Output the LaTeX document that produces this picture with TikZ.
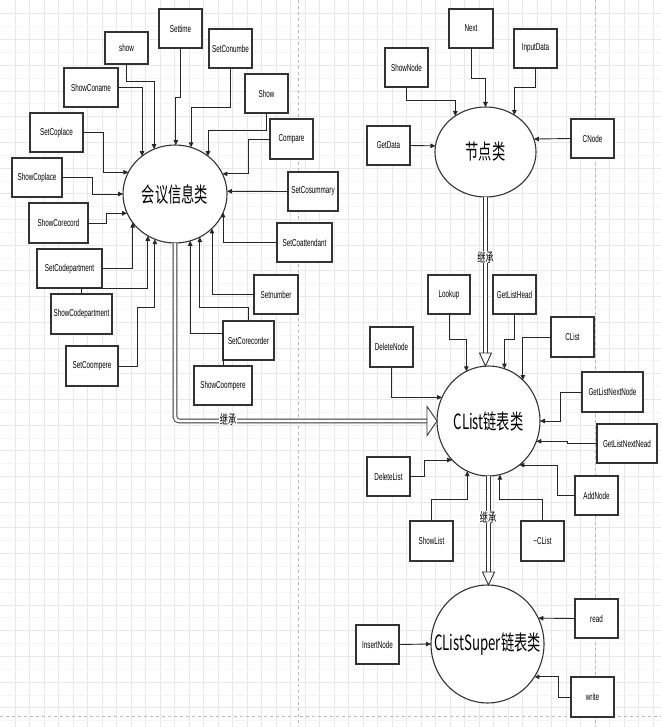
\documentclass[tikz,border=0pt]{standalone}
\usepackage{fontspec}
\setmainfont{Liberation Sans}
\newfontfamily\cjk{Noto Sans CJK SC}
\usepackage{graphicx}
\usetikzlibrary{arrows.meta, shapes.geometric}
\newcommand{\cnd}[1]{\scalebox{0.63}[1]{#1}}
\newcommand{\clsname}[1]{\makebox[0pt]{\scalebox{0.63}[1]{\cjk\fontsize{21}{24}\selectfont #1}}}
\tikzset{
  fnbox/.style={rectangle, draw=black!80, line width=1.1pt, fill=white, minimum width=43pt, minimum height=39pt, inner sep=0pt, outer sep=0pt, font=\fontsize{10}{12}\selectfont},
  clsnode/.style={ellipse, draw=black!80, line width=1.1pt, fill=white, inner sep=0pt, outer sep=0pt},
  fnarr/.style={draw=black!85, line width=0.9pt, -{Triangle[length=5pt,width=4.5pt]}},
  inhline/.style={draw=black!80, line width=0.9pt, double=white, double distance=2.8pt},
  inhhead/.style={draw=black!80, line width=0.9pt, fill=white, line join=miter},
  inhlbl/.style={fill=white, inner sep=0.5pt, font=\cjk\fontsize{13}{14}\selectfont},
  gridmaj/.style={draw=gray!18, line width=0.5pt},
  gridmin/.style={draw=gray!8, line width=0.4pt},
  pgline/.style={draw=gray!55, line width=0.6pt, dash pattern=on 3pt off 3pt},
}

\begin{document}
\begin{tikzpicture}[x=1pt, y=-1pt]
\useasboundingbox (0,0) rectangle (661,727);
\foreach \gx in {0,...,44} \draw[gridmaj] ({15+14.5*\gx},0) -- ({15+14.5*\gx},727);
\foreach \gy in {0,...,27} \draw[gridmaj] (0,{13.7+25.7*\gy}) -- (661,{13.7+25.7*\gy});
\foreach \gy in {0,...,27} \draw[gridmin] (0,{26.55+25.7*\gy}) -- (661,{26.55+25.7*\gy});
\draw[pgline] (298,0) -- (298,727); \draw[pgline] (595,0) -- (595,727);
\draw[pgline] (0,716) -- (661,716);

\node[clsnode, minimum width=104pt, minimum height=98pt] (hy) at (175,194) {\clsname{会议信息类}};
\node[fnbox] (st) at (180.5,28.5) {\cnd{Settime}};
\node[fnbox, minimum height=32pt] (sw) at (126.5,48) {\cnd{show}};
\node[fnbox] (scn) at (230.5,48.5) {\cnd{SetConumbe}};
\node[fnbox, minimum width=54pt] (scm) at (91,87.5) {\cnd{ShowConame}};
\node[fnbox] (sh) at (266.5,93.5) {\cnd{Show}};
\node[fnbox, minimum width=53pt] (scp) at (56.5,132.5) {\cnd{SetCoplace}};
\node[fnbox, minimum height=40pt] (cmp) at (291.5,139) {\cnd{Compare}};
\node[fnbox, minimum width=50pt] (shp) at (37,177.5) {\cnd{ShowCoplace}};
\node[fnbox, minimum width=50pt] (scs) at (313,191.5) {\cnd{SetCosummary}};
\node[fnbox, minimum width=59pt, minimum height=40pt] (shr) at (58.5,223) {\cnd{ShowCorecord}};
\node[fnbox, minimum width=55pt] (sca) at (304.5,242.5) {\cnd{SetCoattendant}};
\node[fnbox, minimum width=65pt] (scd) at (69.5,268.5) {\cnd{SetCodepartment}};
\node[fnbox, minimum width=61pt, minimum height=40pt] (shd) at (81.5,314) {\cnd{ShowCodepartment}};
\node[fnbox, minimum width=44pt] (snb) at (276,294.5) {\cnd{Setnumber}};
\node[fnbox, minimum width=51pt] (scr) at (248.5,340.5) {\cnd{SetCorecorder}};
\node[fnbox, minimum width=52pt, minimum height=40pt] (sce) at (92,366) {\cnd{SetCoompere}};
\node[fnbox, minimum width=58pt] (she) at (223,385.5) {\cnd{ShowCoompere}};
\draw[fnarr] (sw.south) -- ++(0,17) -| (hy.115);
\draw[fnarr] (scm.east) -| (hy.131);
\draw[fnarr] (st.south) -- ++(0,49) -| (hy.89);
\draw[fnarr] (scn.south) -- ++(0,39) -| (hy.71);
\draw[fnarr] (sh.south) -- ++(0,17) -| (hy.49);
\draw[fnarr] (cmp.west) -- ++(-22,0) |- (hy.23);
\draw[fnarr] (scp.east) -- ++(20,0) |- (hy.155);
\draw[fnarr] (shp.east) -- ++(30,0) |- (hy.west);
\draw[fnarr] (shr.east) -- ++(18,0) |- (hy.202);
\draw[fnarr] (scd.east) -| (hy.214);
\draw[fnarr] (shd.north) -- ++(0,-6) -| (hy.237);
\draw[fnarr] (sce.east) -- ++(19,0) -- ++(0,-59) -| (hy.246);
\draw[fnarr] (scs.west) -- (hy.3);
\draw[fnarr] (sca.west) -| (hy.-21);
\draw[fnarr] (snb.west) -| (hy.-43);
\draw[fnarr] (scr.north) -- ++(0,-14) -| (hy.-60);
\draw[fnarr] (she.north) -- ++(0,-33) -| (hy.-72);

\node[clsnode, minimum width=101pt, minimum height=90pt] (jd) at (485.5,152) {\clsname{节点类}};
\node[fnbox, minimum width=44pt] (nx) at (471,28.5) {\cnd{Next}};
\node[fnbox] (ind) at (535.5,48.5) {\cnd{InputData}};
\node[fnbox] (sn) at (406.5,67.5) {\cnd{ShowNode}};
\node[fnbox] (gd) at (388.5,145.5) {\cnd{GetData}};
\node[fnbox] (cn) at (592.5,138.5) {\cnd{CNode}};
\draw[fnarr] (nx.south) -- ++(0,30) -| (jd.north);
\draw[fnarr] (ind.south) -- ++(0,19) -| (jd.52);
\draw[fnarr] (sn.south) -- ++(0,13) -| (jd.130);
\draw[fnarr] (gd.east) -- (jd.173);
\draw[fnarr] (cn.west) -- (jd.15);

\node[clsnode, minimum width=103pt, minimum height=110pt] (cl) at (488.5,421) {\clsname{CList链表类}};
\node[fnbox, minimum width=42pt] (lk) at (449,294.5) {\cnd{Lookup}};
\node[fnbox] (glh) at (514.5,294.5) {\cnd{GetListHead}};
\node[fnbox, minimum height=40pt] (dn) at (391.5,347) {\cnd{DeleteNode}};
\node[fnbox, minimum height=40pt] (clb) at (572.5,337) {\cnd{CList}};
\node[fnbox, minimum width=61pt, minimum height=40pt] (gnn) at (612.5,392) {\cnd{GetListNextNode}};
\node[fnbox, minimum width=60pt] (gnd) at (627,443.5) {\cnd{GetListNextNead}};
\node[fnbox] (dl) at (388.5,476.5) {\cnd{DeleteList}};
\node[fnbox] (an) at (596.5,495.5) {\cnd{AddNode}};
\node[fnbox, minimum height=40pt] (sl) at (431.5,541) {\cnd{ShowList}};
\node[fnbox, minimum height=40pt] (dc) at (542.5,541) {\cnd{\textasciitilde CList}};
\draw[fnarr] (lk.south) -- ++(0,25) -| (cl.114);
\draw[fnarr] (glh.south) -- ++(0,25) -| (cl.73);
\draw[fnarr] (dn.south) |- (cl.153);
\draw[fnarr] (clb.west) -| (cl.50);
\draw[fnarr] (gnn.west) -- ++(-22,0) |- (cl.east);
\draw[fnarr] (gnd.west) -- ++(-30,0) |- (cl.-23);
\draw[fnarr] (dl.east) -- ++(14,0) |- (cl.227);
\draw[fnarr] (sl.north) -- ++(0,-22) -| (cl.247);
\draw[fnarr] (dc.north) -- ++(0,-22) -| (cl.-78);
\draw[fnarr] (an.west) -- ++(-18,0) |- (cl.-55);

\node[clsnode, minimum width=113pt, minimum height=118pt] (cs) at (487.5,644) {\clsname{CListSuper链表类}};
\node[fnbox] (rd) at (596.5,618.5) {\cnd{read}};
\node[fnbox] (ins) at (377.5,644.5) {\cnd{InsertNode}};
\node[fnbox, minimum height=40pt] (wr) at (592.5,697) {\cnd{write}};
\draw[fnarr] (rd.west) -- (cs.27);
\draw[fnarr] (ins.east) -- (cs.west);
\draw[fnarr] (wr.west) -- ++(-13,0) |- (cs.-35);

\draw[inhline, rounded corners=4pt] (hy.south) |- ([xshift=-10pt]cl.west);
\draw[inhhead] ([xshift=-10pt,yshift=14.5pt]cl.west) -- (cl.west) -- ([xshift=-10pt,yshift=-14.5pt]cl.west) -- cycle;
\node[inhlbl] (lb1) at (228,419) {\cnd{继承}};
\coordinate (t1) at (jd.south |- cl.north);
\draw[inhline] (jd.south) -- ([yshift=13pt]t1);
\draw[inhhead] ([xshift=-6pt,yshift=13pt]t1) -- (t1) -- ([xshift=6pt,yshift=13pt]t1) -- cycle;
\node[inhlbl] (lb2) at (485.5,257) {\cnd{继承}};
\coordinate (t2) at (cl.south |- cs.north);
\draw[inhline] (cl.south) -- ([yshift=13pt]t2);
\draw[inhhead] ([xshift=-6pt,yshift=13pt]t2) -- (t2) -- ([xshift=6pt,yshift=13pt]t2) -- cycle;
\node[inhlbl] (lb3) at (488,517) {\cnd{继承}};
\end{tikzpicture}
\end{document}
